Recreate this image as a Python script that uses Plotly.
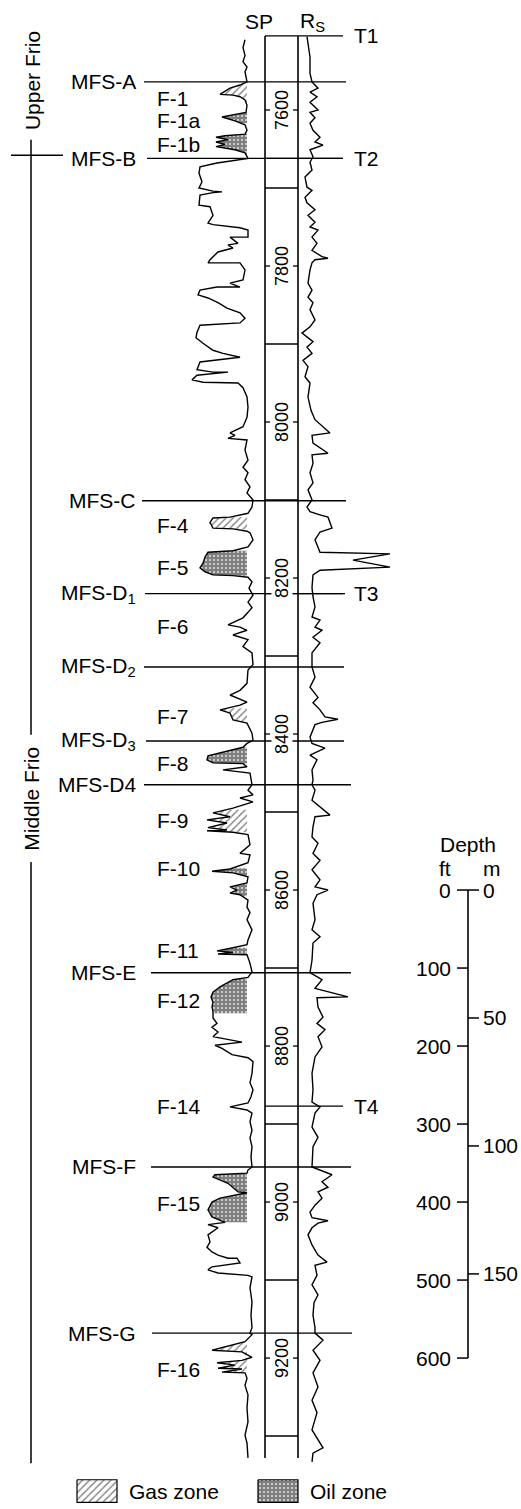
import numpy as np
import plotly.graph_objects as go

W, H = 521, 1509
FONT = "Liberation Sans, Arial, Helvetica, sans-serif"

# Spontaneous potential (mV, shale baseline ~0) vs depth (ft)
SP_DEPTH = [7510, 7520, 7530, 7538, 7545, 7551, 7564, 7568, 7572, 7580, 7581, 7583, 7587, 7594,
            7603, 7606, 7609, 7614, 7619, 7626, 7631, 7633, 7635, 7638, 7641, 7644, 7647, 7651,
            7655, 7662, 7668, 7673, 7681, 7692, 7700, 7704, 7705, 7706, 7709, 7722, 7724, 7735,
            7745, 7747, 7751, 7754, 7763, 7763, 7771, 7773, 7777, 7782, 7792, 7796, 7796, 7805,
            7818, 7822, 7827, 7827, 7831, 7837, 7841, 7847, 7854, 7860, 7867, 7873, 7876, 7885,
            7892, 7899, 7908, 7912, 7917, 7923, 7933, 7936, 7936, 7940, 7946, 7949, 7950, 7956,
            7968, 7981, 7994, 8006, 8014, 8017, 8021, 8023, 8036, 8049, 8058, 8065, 8074, 8083,
            8091, 8100, 8109, 8117, 8122, 8123, 8129, 8136, 8137, 8140, 8142, 8151, 8160, 8165,
            8167, 8173, 8181, 8187, 8192, 8196, 8197, 8199, 8205, 8213, 8222, 8231, 8238, 8244,
            8251, 8260, 8263, 8267, 8273, 8279, 8288, 8296, 8311, 8318, 8335, 8344, 8350, 8359,
            8363, 8369, 8373, 8382, 8386, 8399, 8408, 8412, 8417, 8428, 8433, 8437, 8438, 8442,
            8446, 8450, 8465, 8472, 8478, 8482, 8487, 8495, 8501, 8506, 8510, 8514, 8520, 8523,
            8524, 8526, 8529, 8542, 8553, 8555, 8565, 8573, 8576, 8578, 8583, 8591, 8596, 8600,
            8604, 8606, 8613, 8622, 8629, 8638, 8651, 8664, 8670, 8674, 8678, 8680, 8682, 8683,
            8694, 8705, 8712, 8715, 8724, 8731, 8737, 8744, 8750, 8756, 8764, 8771, 8776, 8782,
            8788, 8795, 8799, 8803, 8811, 8815, 8820, 8835, 8847, 8856, 8865, 8873, 8878, 8882,
            8886, 8897, 8908, 8918, 8929, 8942, 8955, 8959, 8963, 8965, 8968, 8976, 8987, 8988,
            8995, 9000, 9010, 9019, 9026, 9029, 9033, 9042, 9051, 9058, 9064, 9068, 9072, 9072,
            9078, 9083, 9087, 9091, 9094, 9096, 9110, 9128, 9145, 9161, 9168, 9170, 9179, 9190,
            9192, 9199, 9203, 9206, 9209, 9213, 9214, 9218, 9219, 9226, 9235, 9247, 9264, 9282,
            9299, 9309, 9328]
SP_MV = [-5, -7, -5, -7, -3, -5, -3, -10, -20, -30, -17, -10, -5, -3,
         -4, -15, -28, -15, -5, -3, -5, -25, -34, -22, -34, -25, -34, -15,
         -5, -2, -33, -50, -51, -48, -51, -37, -28, -37, -50, -51, -40, -37,
         -42, -37, -10, -2, -2, -20, -12, -22, -17, -32, -40, -42, -10, -5,
         -7, -20, -10, -33, -50, -52, -42, -32, -23, -10, -5, -10, -50, -53,
         -54, -47, -37, -27, -10, -50, -53, -37, -22, -53, -58, -47, -12, -7,
         -3, -2, -3, -7, -20, -15, -22, -3, -5, -2, -7, -2, -5, 0,
         -3, 3, 2, -2, -20, -37, -40, -37, -17, -3, 0, 3, -2, -17,
         -42, -45, -47, -50, -45, -37, -17, -2, 2, -1, 3, -2, 2, -2,
         -7, -22, -10, -3, -17, -2, -7, 2, 3, -2, -3, -10, -20, -3,
         -10, -30, -20, -17, -3, 2, 3, -3, -7, -42, -43, -37, -7, -3,
         -27, 0, 2, -2, 3, -10, 3, -17, -37, -20, -43, -23, -42, -23,
         -43, -17, -2, 0, -10, 0, -2, -20, -38, -17, -2, -3, -20, -13,
         -20, -10, -2, -3, 0, -3, 2, -2, -3, -17, -33, -17, -32, -3,
         0, 2, -2, -17, -30, -37, -39, -37, -38, -37, -37, -33, -38, -32,
         -37, -8, -35, -28, -18, -2, 3, 2, 0, 3, 1, -2, -20, -3,
         2, 0, 2, 0, 2, 1, 2, -2, -3, -35, -37, -22, -12, -3,
         -30, -38, -42, -38, -25, -42, -32, -42, -40, -43, -38, -32, -22, -13,
         -10, -38, -42, -32, -2, 2, 0, 2, 1, 2, 0, 2, -5, -38,
         -8, 2, -8, -33, -15, -32, -8, -28, -5, -3, -5, -2, -3, -2,
         -5, -3, -2]

# Short-normal resistivity (ohm-m) vs depth (ft)
RS_DEPTH = [7506, 7532, 7553, 7564, 7572, 7577, 7583, 7590, 7600, 7603, 7610, 7617, 7626, 7635,
            7641, 7645, 7651, 7660, 7667, 7677, 7686, 7699, 7703, 7712, 7719, 7728, 7735, 7744,
            7750, 7754, 7763, 7771, 7780, 7788, 7790, 7792, 7796, 7805, 7822, 7831, 7840, 7847,
            7856, 7869, 7878, 7886, 7897, 7904, 7912, 7921, 7929, 7942, 7950, 7968, 7985, 7997,
            8014, 8017, 8027, 8040, 8042, 8053, 8065, 8078, 8087, 8100, 8109, 8115, 8119, 8122,
            8136, 8141, 8151, 8160, 8167, 8169, 8177, 8186, 8190, 8196, 8212, 8224, 8237, 8250,
            8254, 8263, 8267, 8276, 8283, 8296, 8314, 8327, 8340, 8353, 8360, 8369, 8378, 8381,
            8385, 8388, 8404, 8412, 8418, 8427, 8433, 8446, 8459, 8465, 8472, 8485, 8504, 8506,
            8519, 8532, 8540, 8553, 8562, 8574, 8587, 8596, 8600, 8606, 8617, 8638, 8651, 8660,
            8668, 8690, 8706, 8715, 8726, 8737, 8738, 8750, 8763, 8771, 8779, 8788, 8801, 8814,
            8835, 8856, 8872, 8878, 8886, 8904, 8917, 8929, 8955, 8965, 8974, 8981, 8987, 8995,
            9004, 9013, 9020, 9024, 9027, 9033, 9042, 9055, 9068, 9077, 9081, 9094, 9106, 9119,
            9129, 9145, 9161, 9168, 9177, 9190, 9203, 9219, 9237, 9254, 9270, 9292, 9315, 9322,
            9333]
RS_OHMM = [0.9, 1.2, 1.2, 1.4, 2.0, 1.2, 1.9, 1.2, 2.0, 1.2, 1.7, 1.2, 1.5, 2.2,
           1.7, 2.5, 1.2, 1.5, 1.2, 1.4, 0.7, 0.9, 1.4, 0.7, 0.9, 1.7, 1.0, 1.7,
           1.2, 2.0, 1.4, 1.9, 1.4, 2.4, 3.0, 1.7, 1.4, 1.2, 1.0, 1.4, 1.0, 1.5,
           1.2, 1.7, 1.2, 0.4, 1.5, 0.9, 1.4, 0.5, 1.0, 0.7, 1.2, 1.0, 1.3, 1.7,
           3.2, 1.4, 1.5, 3.0, 1.4, 1.5, 1.2, 1.5, 1.0, 1.4, 0.9, 1.2, 2.2, 3.0,
           3.4, 2.2, 1.7, 2.0, 2.2, 9.2, 5.5, 9.2, 2.2, 1.5, 1.4, 1.5, 1.7, 1.4,
           2.2, 1.7, 2.4, 1.5, 2.2, 1.4, 1.4, 1.7, 1.2, 2.0, 1.5, 2.2, 2.7, 4.0,
           2.4, 1.7, 1.2, 1.4, 2.7, 1.2, 1.9, 1.4, 1.5, 1.4, 1.7, 1.4, 3.2, 1.7,
           1.5, 1.4, 2.0, 1.5, 2.2, 1.4, 2.2, 1.7, 3.0, 1.9, 1.5, 1.7, 1.4, 2.2,
           1.5, 1.4, 1.2, 2.4, 1.7, 5.0, 1.9, 2.0, 2.5, 1.9, 2.7, 2.0, 2.4, 1.7,
           1.4, 1.5, 1.4, 2.2, 1.7, 1.4, 2.0, 1.5, 1.4, 3.4, 2.4, 3.0, 2.0, 2.4,
           1.7, 1.2, 1.4, 3.0, 2.0, 1.4, 1.0, 1.4, 2.0, 2.9, 1.7, 1.9, 1.4, 2.0,
           1.6, 1.5, 1.7, 1.7, 2.5, 1.5, 2.2, 1.5, 2.0, 1.4, 1.9, 1.4, 2.5, 1.5,
           1.4]

# Maximum flooding surfaces (ft)
MFS_NAMES = ["MFS-A", "MFS-B", "MFS-C", "MFS-D<sub>1</sub>", "MFS-D<sub>2</sub>",
             "MFS-D<sub>3</sub>", "MFS-D4", "MFS-E", "MFS-F", "MFS-G"]
MFS_DEPTH = [7564, 7662, 8101, 8220, 8314, 8409, 8465, 8706, 8955, 9168]

# Correlation tops (ft)
T_NAMES = ["T1", "T2", "T3", "T4"]
T_DEPTH = [7505, 7662, 8220, 8877]

# Sand labels (ft)
SAND_NAMES = ["F-1", "F-1a", "F-1b", "F-4", "F-5", "F-6", "F-7", "F-8", "F-9", "F-10",
              "F-11", "F-12", "F-14", "F-15", "F-16"]
SAND_DEPTH = [7585, 7613, 7644, 8133, 8187, 8262, 8377, 8438, 8511, 8572,
              8678, 8742, 8878, 9002, 9215]

# Hydrocarbon zones (top ft, base ft, fluid)
ZONE_TOP = [7566, 7604, 7630, 8122, 8165, 8367, 8417, 8497, 8572, 8674, 8714, 8962, 9179]
ZONE_BASE = [7590, 7617, 7657, 8138, 8197, 8385, 8438, 8526, 8608, 8686, 8758, 9026, 9219]
ZONE_FLUID = ["gas", "oil", "oil", "gas", "oil", "gas", "oil", "gas", "oil", "oil", "oil", "oil", "gas"]
SP_SHALE_BASE = -3  # mV, shale baseline used for shading

# Depth track
DEPTH_LABELS = [7600, 7800, 8000, 8200, 8400, 8600, 8800, 9000, 9200]
DEPTH_GRID = [7700, 7900, 8100, 8300, 8500, 8700, 8900, 9100, 9300]
TRACK_TOP, TRACK_BOTTOM = 7505, 9328

# Depth scale bar
SCALE_ORIGIN = 8600
SCALE_FT = [0, 100, 200, 300, 400, 500, 600]
SCALE_M = [0, 50, 100, 150]
FT_PER_M = 3.28084

# Stratigraphic units
UNIT_NAMES = ["Upper Frio", "Middle Frio"]
UNIT_LABEL_DEPTH = [7563, 8483]

# ---------------- layout geometry (pixels across the page) ----------------
Y_TOP, Y_BOTTOM = 7459.0, 9393.5
SP_DOM = (150, 265)
SP_RANGE = (-100, 15)
RS_DOM = (298, 400)
RS_RANGE = (0, 10.2)
TRACK_L, TRACK_R = 265, 298
MFS_X = [(144, 346), (147, 343), (142, 346), (145, 345), (144, 344),
         (146, 344), (144, 351), (151, 351), (151, 351), (152, 352)]
MFS_LABEL_X = 137
SAND_LABEL_X = 156
T_LABEL_X = 353
T_LINE_X = (265, 343)
UNIT_X = 31
SCALE_X = 468
FS = 21

OIL_PAT = dict(shape="+", size=4, solidity=0.85, fgcolor="black", bgcolor="white")
GAS_PAT = dict(shape="/", size=5, solidity=0.28, fgcolor="black", bgcolor="white")

fig = go.Figure()

sp_d = np.array(SP_DEPTH, float)
sp_v = np.array(SP_MV, float)

# hydrocarbon shading
for top, base, fluid in zip(ZONE_TOP, ZONE_BASE, ZONE_FLUID):
    m = (sp_d > top) & (sp_d < base)
    dd = np.concatenate([[top], sp_d[m], [base]])
    vv = np.concatenate([[np.interp(top, sp_d, sp_v)], sp_v[m], [np.interp(base, sp_d, sp_v)]])
    vv = np.minimum(vv, SP_SHALE_BASE)
    xs = [SP_SHALE_BASE] + list(vv) + [SP_SHALE_BASE]
    ys = [top] + list(dd) + [base]
    pat = OIL_PAT if fluid == "oil" else GAS_PAT
    fig.add_trace(go.Scatter(x=xs, y=ys, xaxis="x2", yaxis="y", mode="lines",
                             line=dict(width=0), fill="toself", fillcolor="white",
                             fillpattern=pat, hoverinfo="skip", showlegend=False))

# curves
fig.add_trace(go.Scatter(x=SP_MV, y=SP_DEPTH, xaxis="x2", yaxis="y", mode="lines",
                         line=dict(color="black", width=1.4), showlegend=False, name="SP"))
fig.add_trace(go.Scatter(x=RS_OHMM, y=RS_DEPTH, xaxis="x3", yaxis="y", mode="lines",
                         line=dict(color="black", width=1.4), showlegend=False, name="Rs"))

shapes = []
def line(x0, y0, x1, y1, w=1.4):
    shapes.append(dict(type="line", xref="x", yref="y", x0=x0, y0=y0, x1=x1, y1=y1,
                       line=dict(color="black", width=w), layer="above"))

annots = []
def text(x, y, s, size=FS, xa="center", ya="middle", angle=0, bg=None):
    a = dict(x=x, y=y, xref="x", yref="y", text=s, showarrow=False,
             font=dict(size=size, color="black", family=FONT),
             xanchor=xa, yanchor=ya, textangle=angle, borderpad=0)
    if bg:
        a["bgcolor"] = bg
    annots.append(a)

# depth track
line(TRACK_L, TRACK_TOP, TRACK_L, TRACK_BOTTOM, 1.6)
line(TRACK_R, TRACK_TOP, TRACK_R, TRACK_BOTTOM, 1.6)
for d in DEPTH_GRID:
    line(TRACK_L, d, TRACK_R, d, 1.5)

# surfaces
for name, d, (x0, x1) in zip(MFS_NAMES, MFS_DEPTH, MFS_X):
    line(x0, d, x1, d, 1.4)
    text(MFS_LABEL_X, d, name, xa="right")
for name, d in zip(T_NAMES, T_DEPTH):
    line(T_LINE_X[0], d, T_LINE_X[1], d, 1.4)
    text(T_LABEL_X, d, name, xa="left")

# depth labels in track
for d in DEPTH_LABELS:
    line(TRACK_L, d, TRACK_L + 5, d, 1.3)
    line(TRACK_R - 5, d, TRACK_R, d, 1.3)
    text((TRACK_L + TRACK_R) / 2 + 0.5, d, str(d), size=18, angle=-90, bg="white")

# sand labels
for name, d in zip(SAND_NAMES, SAND_DEPTH):
    text(SAND_LABEL_X, d, name, xa="left")

# curve headers
text(259, 7487, "SP")
text(312, 7487, "R<sub>S</sub>")

# stratigraphic units
text(UNIT_X + 1, UNIT_LABEL_DEPTH[0], UNIT_NAMES[0], angle=-90)
text(UNIT_X + 1, UNIT_LABEL_DEPTH[1], UNIT_NAMES[1], angle=-90)
line(UNIT_X, 7638, UNIT_X, 8401, 1.5)
line(UNIT_X, 8564, UNIT_X, 9335, 1.5)
line(11, MFS_DEPTH[1] - 4, 63, MFS_DEPTH[1] - 4, 1.5)

# depth scale bar
line(SCALE_X, SCALE_ORIGIN, SCALE_X, SCALE_ORIGIN + SCALE_FT[-1], 1.6)
for ft in SCALE_FT:
    line(SCALE_X - 11, SCALE_ORIGIN + ft, SCALE_X, SCALE_ORIGIN + ft, 1.5)
    text(SCALE_X - 16, SCALE_ORIGIN + ft, str(ft), xa="right")
for mm in SCALE_M:
    y = SCALE_ORIGIN + mm * FT_PER_M
    line(SCALE_X, y, SCALE_X + 11, y, 1.5)
    text(SCALE_X + 14, y, str(mm), xa="left")
text(SCALE_X, 8541, "Depth")
text(445, 8572, "ft")
text(492, 8572, "m")

# legend swatches
LEG_Y = (9356, 9385)
for (x0, x1), fluid, label in [((77, 117), "gas", "Gas zone"), ((258, 298), "oil", "Oil zone")]:
    pat = OIL_PAT if fluid == "oil" else GAS_PAT
    fig.add_trace(go.Scatter(x=[x0, x1, x1, x0, x0], y=[LEG_Y[0], LEG_Y[0], LEG_Y[1], LEG_Y[1], LEG_Y[0]],
                             xaxis="x", yaxis="y", mode="lines", line=dict(color="black", width=1.2),
                             fill="toself", fillcolor="white", fillpattern=pat,
                             hoverinfo="skip", showlegend=False))
    text(x1 + 11, (LEG_Y[0] + LEG_Y[1]) / 2, label, xa="left")

fig.update_layout(
    width=W, height=H, margin=dict(l=0, r=0, t=0, b=0),
    paper_bgcolor="white", plot_bgcolor="rgba(0,0,0,0)",
    showlegend=False, shapes=shapes, annotations=annots,
    xaxis=dict(domain=[0, 1], range=[0, W], visible=False, fixedrange=True),
    xaxis2=dict(domain=[SP_DOM[0] / W, SP_DOM[1] / W], range=list(SP_RANGE), anchor="y",
                visible=False, fixedrange=True),
    xaxis3=dict(domain=[RS_DOM[0] / W, RS_DOM[1] / W], range=list(RS_RANGE), anchor="y",
                visible=False, fixedrange=True),
    yaxis=dict(domain=[0, 1], range=[Y_BOTTOM, Y_TOP], visible=False, fixedrange=True),
)

fig.write_html("out.html", config={"displayModeBar": False},
               post_script="document.body.style.margin='0';")
